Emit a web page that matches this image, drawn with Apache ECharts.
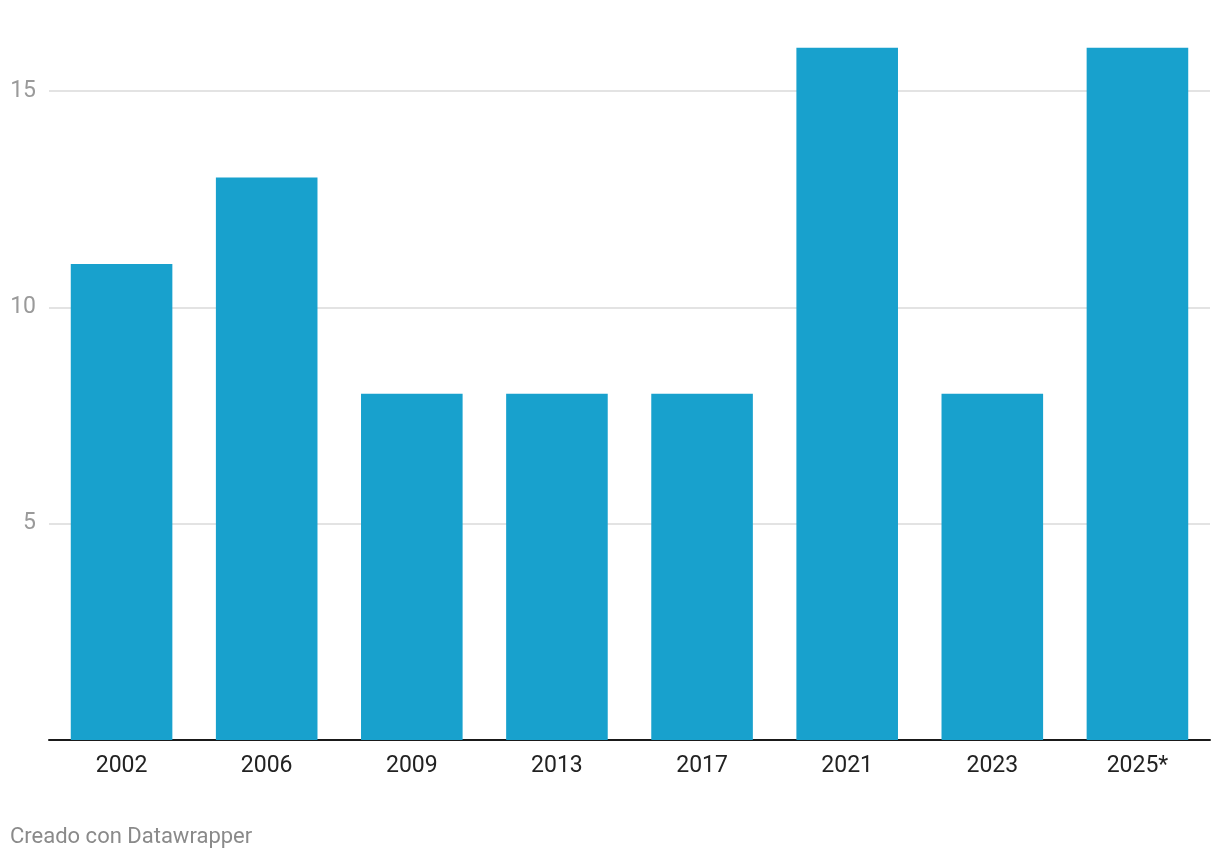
<!DOCTYPE html>
<html>
<head>
<meta charset="utf-8">
<script src="https://cdn.jsdelivr.net/npm/echarts@6/dist/echarts.min.js"></script>
<style>
html,body{margin:0;padding:0;background:#fff;}
#chart{width:1220px;height:860px;}
</style>
</head>
<body>
<div id="chart"></div>
<script>
const categories = ['2002','2006','2009','2013','2017','2021','2023','2025*'];
const values = [11,13,8,8,8,16,8,16];
const yTicks = [0,5,10,15];

const chart = echarts.init(document.getElementById('chart'), null, {renderer:'canvas'});
chart.setOption({
  backgroundColor:'#ffffff',
  animation:false,
  textStyle:{fontFamily:'Roboto'},
  grid:{left:49, right:10, top:47.7, bottom:120, containLabel:false},
  graphic:[{
    type:'text', left:10, top:826,
    style:{text:'Creado con Datawrapper', fill:'#8a8a8a', font:'22px Roboto'}
  }],
  xAxis:{
    type:'category',
    data:categories,
    axisLine:{show:true, lineStyle:{color:'#1a1a1a', width:2}},
    axisTick:{show:false},
    axisLabel:{color:'#222222', fontSize:23, margin:15, fontFamily:'Roboto'}
  },
  yAxis:{
    type:'value',
    min:0, max:16, interval:5,
    axisLine:{show:false},
    axisTick:{show:false},
    axisLabel:{
      color:'#9a9a9a', fontSize:23, margin:13, fontFamily:'Roboto',
      showMaxLabel:false,
      formatter:function(v){ return (v===0 || yTicks.indexOf(v)<0) ? '' : String(v); }
    },
    splitLine:{show:true, showMaxLine:false, showMinLine:false, lineStyle:{color:'#e3e3e3', width:2}}
  },
  series:[{
    type:'bar',
    data:values,
    barCategoryGap:'30%',
    itemStyle:{color:'#18a1cd'}
  }]
});
</script>
</body>
</html>
